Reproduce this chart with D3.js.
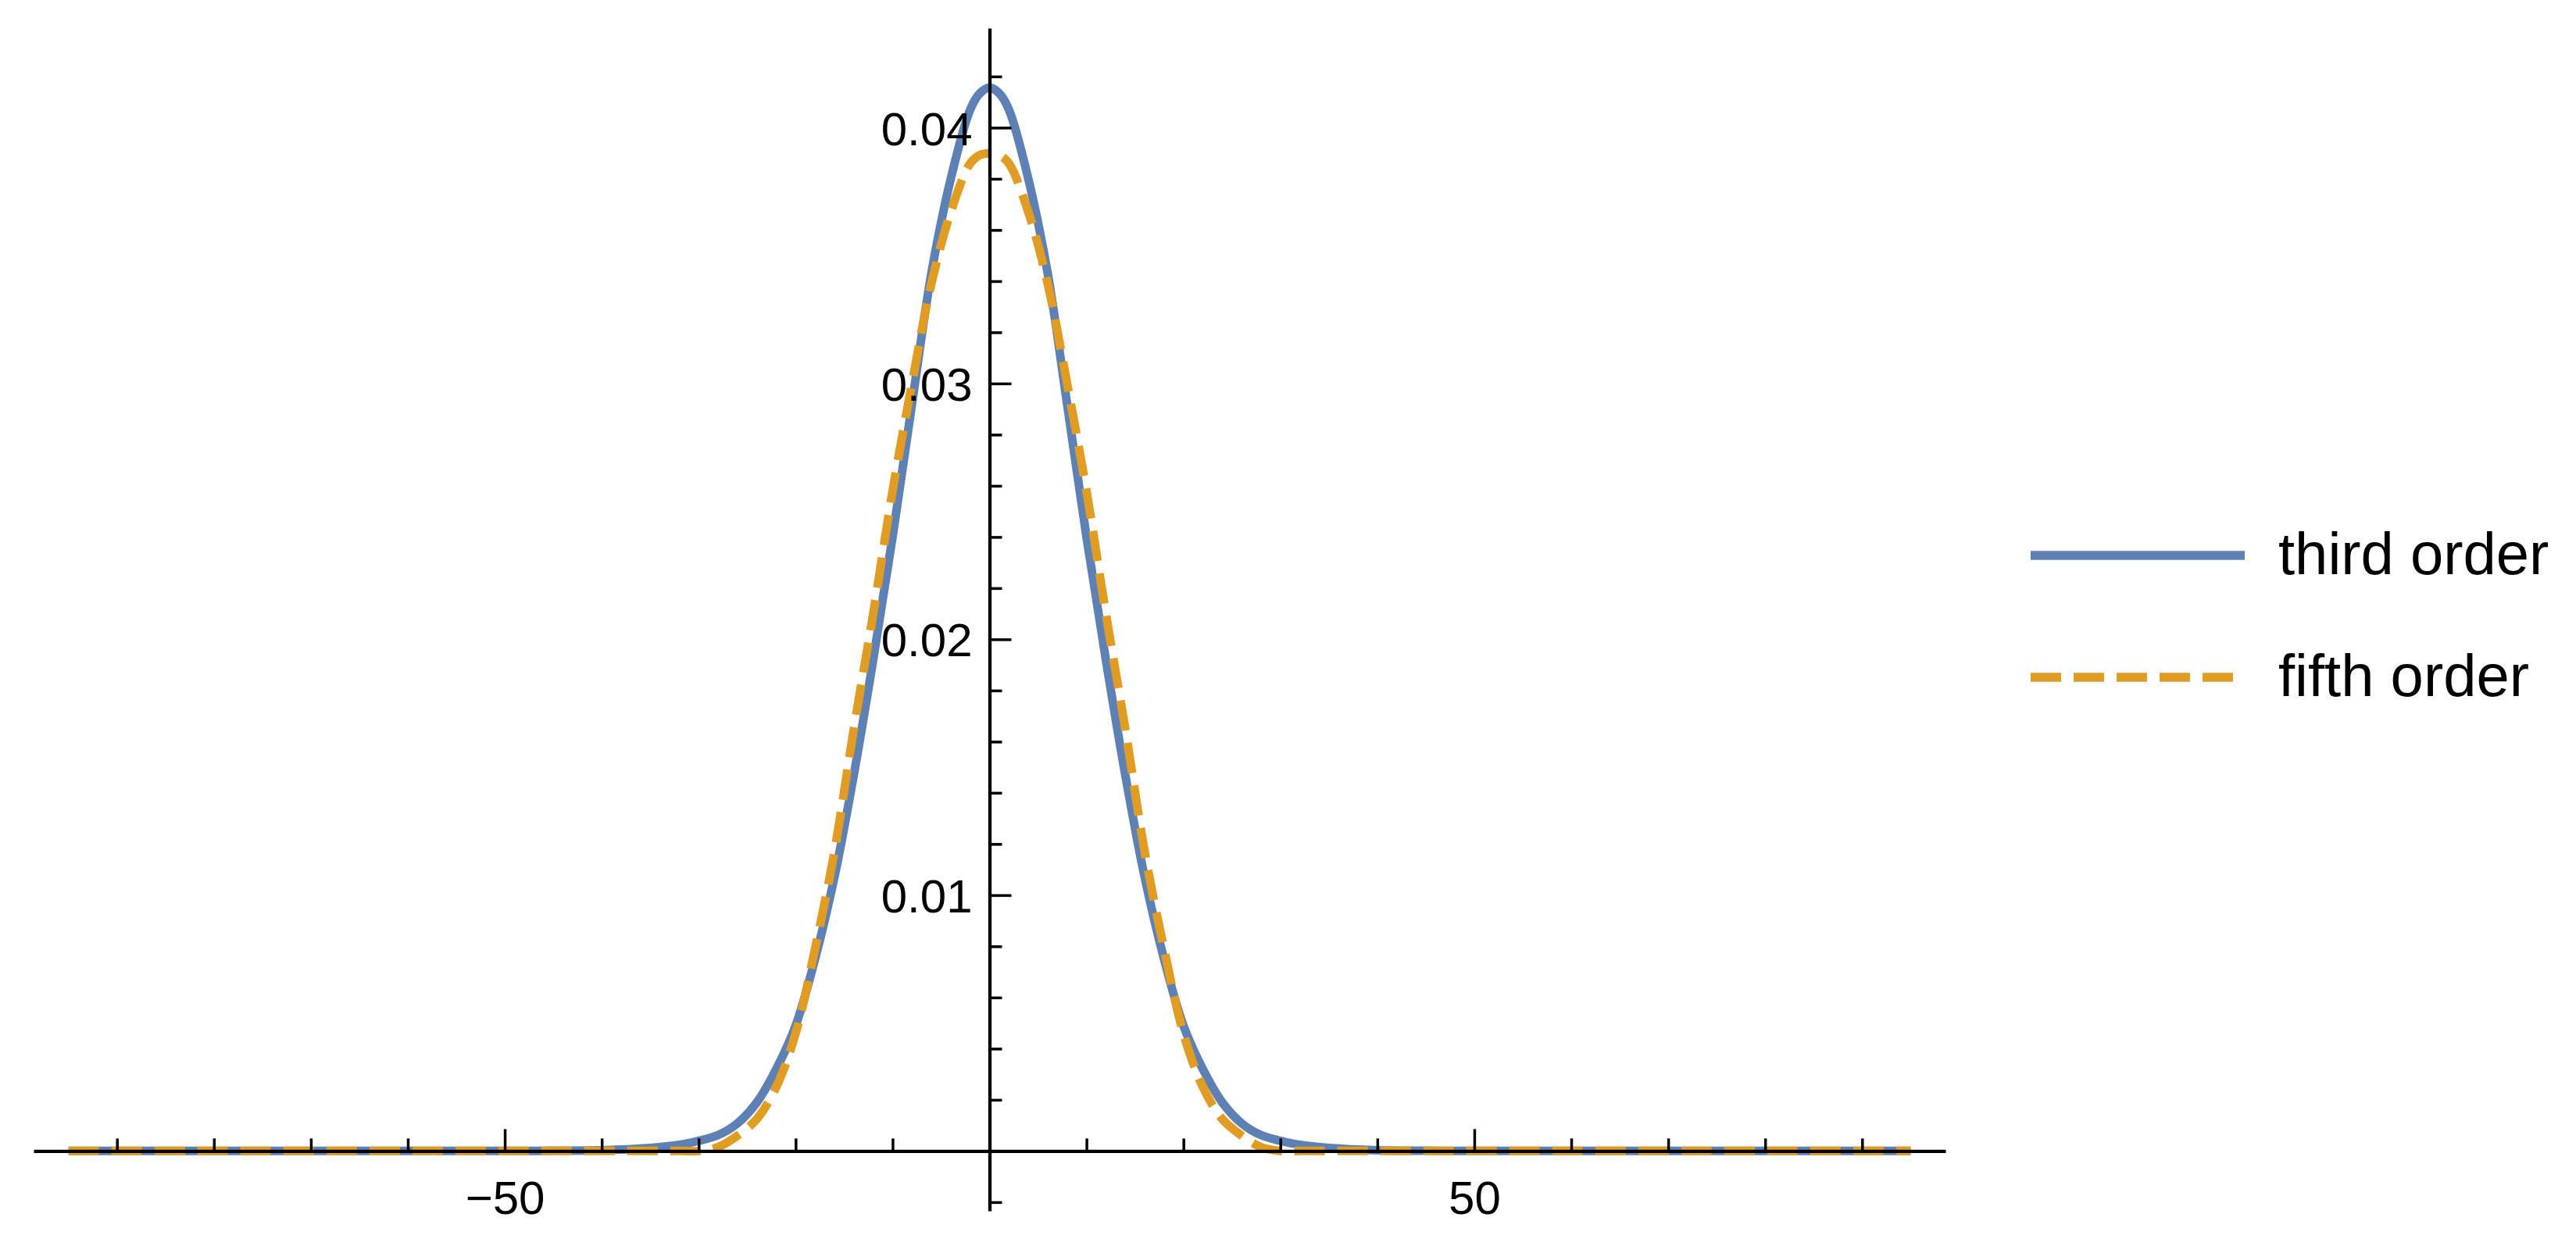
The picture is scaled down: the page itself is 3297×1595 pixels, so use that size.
<!DOCTYPE html>
<html>
<head>
<meta charset="utf-8">
<script src="https://cdn.jsdelivr.net/npm/d3@7"></script>
<style>
  body { margin: 0; background: #fff; }
  svg { display: block; }
</style>
</head>
<body>
<svg id="chart"></svg>
<script>
// Sample points (x, density)
const xValues = [-95, -80, -60, -50, -45, -40, -35, -32, -30, -28, -26, -24, -22, -20, -18, -16, -14, -12, -10, -8, -6, -4, -2, -1,
    0, 1, 2, 4, 6, 8, 10, 12, 14, 16, 18, 20, 22, 24, 26, 28, 30, 32, 35, 40, 45, 50, 60, 80, 95];

const thirdOrder = [0, 0, 0, 0, 0.00001, 0.00003, 0.00012, 0.00024, 0.0004, 0.00062, 0.00108, 0.0019, 0.0032, 0.0049, 0.0075, 0.0107, 0.0147, 0.0192, 0.0240, 0.0292, 0.0343, 0.0380, 0.0407, 0.04134,
    0.04156, 0.04134, 0.0407, 0.0380, 0.0343, 0.0292, 0.0240, 0.0192, 0.0147, 0.0107, 0.0075, 0.0049, 0.0032, 0.0019, 0.00108, 0.00062, 0.0004, 0.00024, 0.00012, 0.00003, 0.00001, 0, 0, 0, 0];

const fifthOrder = [0, 0, 0, 0, 0, 0, 0, 0, 0, 0.00015, 0.0006, 0.00125, 0.0025, 0.0046, 0.0079, 0.0117, 0.0165, 0.0210, 0.0258, 0.0300, 0.0339, 0.0367, 0.0386, 0.03893,
    0.0390, 0.03893, 0.0386, 0.0367, 0.0339, 0.0300, 0.0258, 0.0210, 0.0165, 0.0117, 0.0079, 0.0046, 0.0025, 0.00125, 0.0006, 0.00015, 0, 0, 0, 0, 0, 0, 0, 0, 0];

const seriesNames = ["third order", "fifth order"];
const seriesColors = ["#5E81B5", "#E19C24"];

const xMajorTicks = [-50, 50];
const xMinorTicks = [-90, -80, -70, -60, -40, -30, -20, -10, 10, 20, 30, 40, 60, 70, 80, 90];
const yMajorTicks = [0.01, 0.02, 0.03, 0.04];
const yMinorTicks = [-0.002, 0.002, 0.004, 0.006, 0.008, 0.012, 0.014, 0.016, 0.018, 0.022, 0.024, 0.026, 0.028,
    0.032, 0.034, 0.036, 0.038, 0.042];

// Page size
const width = 3297;
const height = 1595;

const svg = d3.select("#chart")
    .attr("width", width)
    .attr("height", height)
    .style("font-family", "'Liberation Sans', Arial, sans-serif");

// Scales (plot range with Mathematica-style padding)
const x = d3.scaleLinear().domain([-98.6, 98.6]).range([43, 2490]);
const y = d3.scaleLinear().domain([-0.00234, 0.04389]).range([1550, 36]);

const thirdData = xValues.map((v, i) => ({ x: v, y: thirdOrder[i] }));
const fifthData = xValues.map((v, i) => ({ x: v, y: fifthOrder[i] }));

const line = d3.line()
    .x(d => x(d.x))
    .y(d => y(d.y))
    .curve(d3.curveCatmullRom.alpha(0.5));

// Curves (drawn under the axes)
svg.append("path")
    .datum(thirdData)
    .attr("fill", "none")
    .attr("stroke", seriesColors[0])
    .attr("stroke-width", 11)
    .attr("stroke-linejoin", "round")
    .attr("d", line);

svg.append("path")
    .datum(fifthData)
    .attr("fill", "none")
    .attr("stroke", seriesColors[1])
    .attr("stroke-width", 11)
    .attr("stroke-dasharray", "39,16")
    .attr("stroke-linecap", "butt")
    .attr("d", line);

// X axis: minor ticks, then major ticks with labels
const xMinor = svg.append("g")
    .attr("transform", `translate(0,${y(0)})`)
    .call(d3.axisBottom(x).tickValues(xMinorTicks).tickFormat("").tickSizeInner(-16).tickSizeOuter(0));
xMinor.select(".domain").remove();

const xAxis = svg.append("g")
    .attr("transform", `translate(0,${y(0)})`)
    .call(d3.axisBottom(x).tickValues(xMajorTicks)
        .tickFormat(d => d < 0 ? "\u2212" + Math.abs(d) : String(d))
        .tickSizeInner(-28).tickSizeOuter(0).tickPadding(38));

// Y axis: minor ticks, then major ticks with labels
const yMinor = svg.append("g")
    .attr("transform", `translate(${x(0)},0)`)
    .call(d3.axisLeft(y).tickValues(yMinorTicks).tickFormat("").tickSizeInner(-16).tickSizeOuter(0));
yMinor.select(".domain").remove();

const yAxis = svg.append("g")
    .attr("transform", `translate(${x(0)},0)`)
    .call(d3.axisLeft(y).tickValues(yMajorTicks).tickFormat(d3.format(".2f"))
        .tickSizeInner(-28).tickSizeOuter(0).tickPadding(22));

svg.selectAll(".domain").attr("stroke", "#000").attr("stroke-width", 4.3);
svg.selectAll(".tick line").attr("stroke", "#000").attr("stroke-width", 3.5);
svg.selectAll(".tick text")
    .attr("fill", "#000")
    .style("font-family", "'Liberation Sans', Arial, sans-serif")
    .style("font-size", "60px");
yAxis.selectAll(".tick text").attr("dy", "0.36em");

// Legend
const legend = svg.append("g");
const legendY = [711, 867];

seriesNames.forEach((name, i) => {
    legend.append("line")
        .attr("x1", 2599)
        .attr("x2", 2873)
        .attr("y1", legendY[i])
        .attr("y2", legendY[i])
        .attr("stroke", seriesColors[i])
        .attr("stroke-width", 11.5)
        .attr("stroke-dasharray", i === 1 ? "39,16" : null);

    legend.append("text")
        .attr("x", 2916)
        .attr("y", legendY[i] + 24)
        .attr("font-size", 76)
        .attr("fill", "#000")
        .text(name);
});
</script>
</body>
</html>
